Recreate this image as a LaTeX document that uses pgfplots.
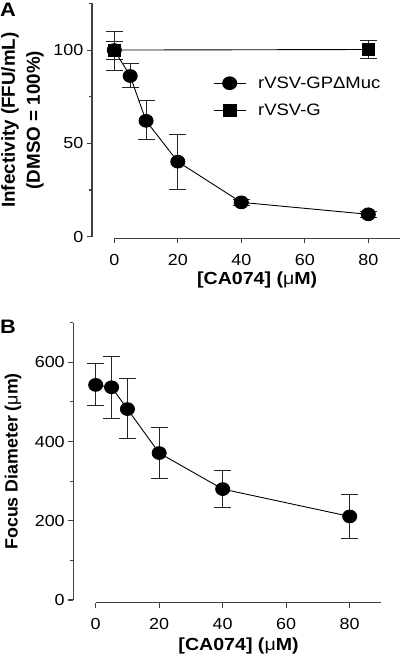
\documentclass[border=0pt]{standalone}
\usepackage{fontspec}
\setmainfont{Liberation Sans}[FakeStretch=1.12]
\newfontfamily\rotfont{Liberation Sans}
\usepackage{pgfplots}
\pgfplotsset{compat=1.18}

\pgfplotsset{
  prism/.style={
    scale only axis,
    width=285.75pt,
    xmin=0, xmax=90,
    axis x line*=bottom,
    axis y line*=left,
    axis y line shift=22.3pt,
    xtick={0,20,40,60,80},
    tick align=outside,
    major tick length=5pt,
    minor tick length=3.5pt,
    axis line style={line width=1.1pt, black!75},
    every tick/.style={line width=1.1pt, black!75},
    tick label style={font=\fontsize{16}{18}\selectfont},
    /pgf/number format/assume math mode=true,
    clip=false,
    yticklabel style={inner sep=3.5pt},
    xticklabel style={inner sep=3.5pt, yshift=-7pt},
    xlabel style={at={(axis description cs:0.5,0)}, anchor=center, font=\bfseries\fontsize{17.5}{20}\selectfont},
    ylabel style={anchor=center, align=center},
    error bars/error bar style={line width=1pt, black!85},
    error bars/error mark options={rotate=90, mark size=8.5pt, line width=1pt, black!85},
  },
  circ/.style={black, line width=0.9pt, mark=*, mark size=6.4pt, mark options={xscale=1.1}},
  sq/.style={black, line width=0.9pt, mark=square*, mark size=6pt, mark options={xscale=1.05}},
}

\begin{document}
\begin{tikzpicture}
\useasboundingbox (0pt,0pt) rectangle (400pt,-655pt);

\begin{axis}[prism,
  at={(114.3pt,-236.7pt)}, anchor=south west,
  height=233.3pt,
  ymin=0, ymax=125,
  ytick={0,50,100},
  minor ytick={25,75,125},
  axis x line shift=1.5pt,
  xlabel={[CA074] ({\mdseries μ}M)},
  xlabel style={yshift=-43.3pt},
  ylabel={Infectivity (FFU/mL)\\(DMSO = 100\%)},
  ylabel style={at={(rel axis cs:-0.321,0.5)}, font=\rotfont\bfseries\fontsize{18.8}{25}\selectfont},
  legend style={draw=none, fill=none, at={(axis cs:31.1,86.9)}, anchor=north west,
    inner sep=0pt, column sep=10pt, row sep=10pt,
    font=\fontsize{16.5}{18}\selectfont},
  legend cell align=left,
  legend image code/.code={\draw[mark repeat=2, mark phase=2] plot coordinates {(0pt,0pt) (16pt,0pt) (32pt,0pt)};},
]
% rVSV-G (drawn first, below circles)
\addplot[sq, forget plot, error bars/.cd, y dir=both, y explicit] coordinates {
  (0,100)   += (0,4.8) -= (0,5.2)
  (80,100.3) += (0,4.6) -= (0,4.8)
};
% rVSV-GPdeltaMuc
\addplot[circ, error bars/.cd, y dir=both, y explicit] coordinates {
  (0,100)  += (0,10.2) -= (0,11)
  (5,86.1) += (0,6.8) -= (0,6.1)
  (10,62.1) += (0,10.7) -= (0,9.9)
  (20,40.2) += (0,14.6) -= (0,14.7)
  (40,18.4) += (0,1.5) -= (0,1.5)
  (80,12.0) += (0,1.5) -= (0,1.5)
};
\addlegendentry{rVSV-GPΔMuc}
\addlegendimage{sq}
\addlegendentry{rVSV-G}
\end{axis}

\begin{axis}[prism,
  at={(95.7pt,-600pt)}, anchor=south west,
  height=277.3pt,
  ymin=0, ymax=700,
  ytick={0,200,400,600},
  minor ytick={100,300,500,700},
  axis x line shift=2.5pt,
  xlabel={[CA074] ({\mdseries μ}M)},
  xlabel style={yshift=-46pt},
  ylabel={Focus Diameter ({\mdseries μ}m)},
  ylabel style={at={(rel axis cs:-0.2894,0.5)}, font=\rotfont\bfseries\fontsize{17.8}{20}\selectfont},
]
\addplot[circ, error bars/.cd, y dir=both, y explicit] coordinates {
  (0,543)  += (0,53) -= (0,53)
  (5,537)  += (0,78) -= (0,78)
  (10,482) += (0,78) -= (0,75)
  (20,371) += (0,65) -= (0,64)
  (40,280) += (0,46) -= (0,47)
  (80,211) += (0,55) -= (0,55)
};
\end{axis}

\node[anchor=base west, inner sep=0pt, font=\bfseries\fontsize{19.5}{22}\selectfont] at (0pt,-17pt) {A};
\node[anchor=base west, inner sep=0pt, font=\bfseries\fontsize{19.5}{22}\selectfont] at (0pt,-333pt) {B};
\end{tikzpicture}
\end{document}
